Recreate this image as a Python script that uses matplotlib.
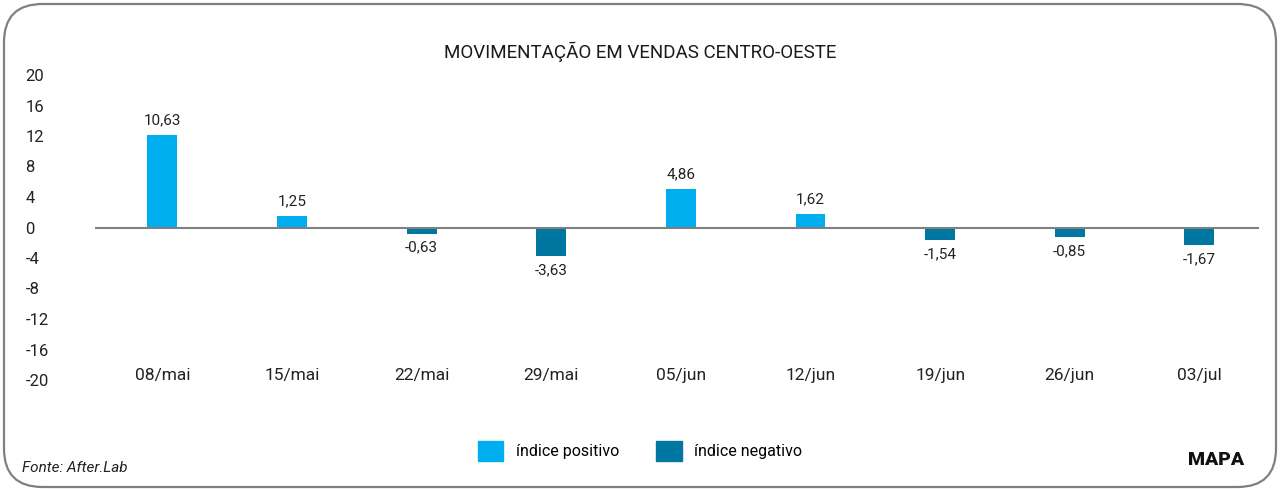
import matplotlib.pyplot as plt
from matplotlib.patches import FancyBboxPatch, Patch

plt.rcParams['font.family'] = ['Roboto', 'DejaVu Sans']

semanas = ["08/mai", "15/mai", "22/mai", "29/mai", "05/jun", "12/jun", "19/jun", "26/jun", "03/jul"]
# bar heights as drawn in the picture
alturas = [12.1, 1.45, -0.8, -3.8, 5.0, 1.75, -1.7, -1.3, -2.35]
rotulos = ["10,63", "1,25", "-0,63", "-3,63", "4,86", "1,62", "-1,54", "-0,85", "-1,67"]
yticks = [20, 16, 12, 8, 4, 0, -4, -8, -12, -16, -20]

cor_pos = "#00AEEF"
cor_neg = "#0077A0"

fig = plt.figure(figsize=(12.8, 4.91), dpi=100)
ax = fig.add_axes([95/1280, 1-380/491, (1259-95)/1280, (380-75)/491])

x = list(range(len(semanas)))
cores = [cor_pos if v >= 0 else cor_neg for v in alturas]
ax.bar(x, alturas, width=0.23, color=cores, zorder=2)
ax.axhline(0, color="#7f7f7f", lw=1.5, zorder=3)

for xi, v, r in zip(x, alturas, rotulos):
    if v >= 0:
        ax.annotate(r, (xi, v), xytext=(0, 6), textcoords="offset points",
                    ha="center", va="bottom", fontsize=11, color="#222222")
    else:
        ax.annotate(r, (xi, v), xytext=(0, -5), textcoords="offset points",
                    ha="center", va="top", fontsize=11, color="#222222")

for xi, s in zip(x, semanas):
    ax.text(xi, -19.4, s, ha="center", va="center", fontsize=12.5, color="#222222")

ax.set_xlim(-0.52, 8.46)
ax.set_ylim(-20, 20)
ax.set_xticks([])
ax.set_yticks(yticks)
ax.set_yticklabels([str(t) for t in yticks])
ax.tick_params(axis="y", length=0, labelsize=12, labelcolor="#222222", pad=50)
for lbl in ax.get_yticklabels():
    lbl.set_horizontalalignment("left")
for s in ax.spines.values():
    s.set_visible(False)

fig.text(640/1280, 1-52/491, "MOVIMENTAÇÃO EM VENDAS CENTRO-OESTE",
         ha="center", va="center", fontsize=13.5, color="#1a1a1a")

fig.legend(handles=[Patch(color=cor_pos, label="índice positivo"),
                    Patch(color=cor_neg, label="índice negativo")],
           loc="center", bbox_to_anchor=(640/1280, 1-451/491), ncol=2,
           frameon=False, fontsize=11.5, handlelength=1.6, handleheight=1.6,
           handletextpad=0.8, columnspacing=2.3)

fig.text(22/1280, 1-468/491, "Fonte: After.Lab", ha="left", va="center",
         fontsize=11, style="italic", color="#222222")
fig.text(1216/1280, 1-460/491, "MAPA", ha="center", va="center",
         fontsize=14, fontweight="black", color="#111111")

borda = FancyBboxPatch((4/1280, 4/491), 1272/1280, 483/491,
                       boxstyle="round,pad=0,rounding_size=0.03",
                       transform=fig.transFigure, fill=False,
                       ec="#808080", lw=1.6, mutation_aspect=1280/491)
fig.patches.append(borda)

fig.savefig("out.png", dpi=100)
